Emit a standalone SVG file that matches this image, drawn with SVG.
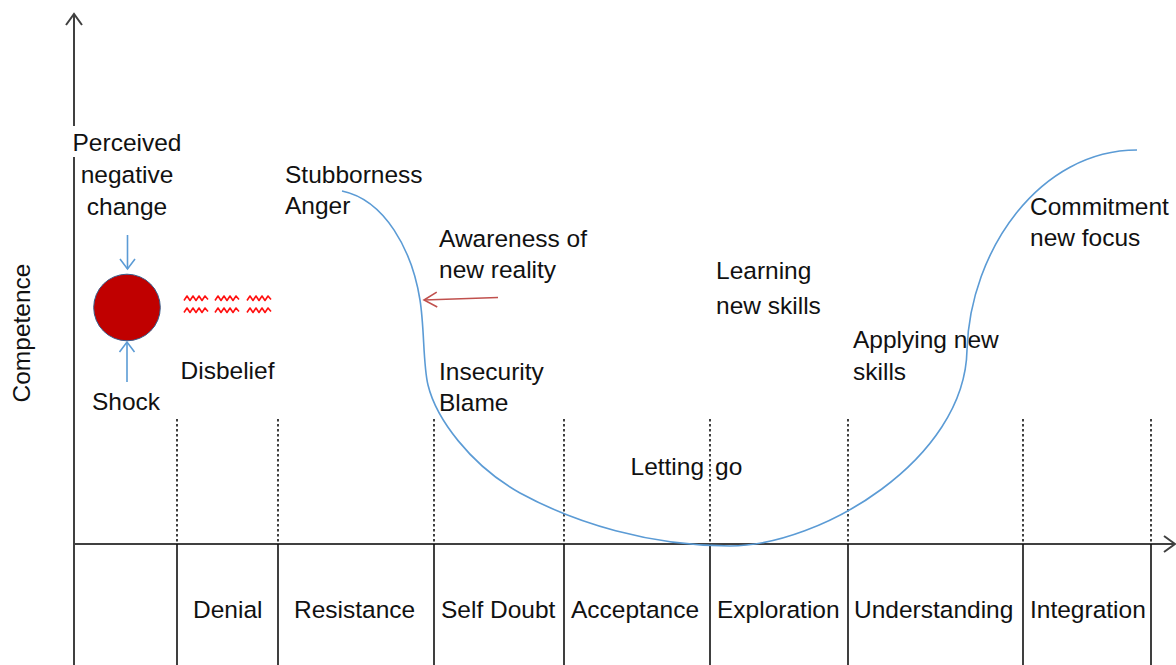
<svg xmlns="http://www.w3.org/2000/svg" width="1176" height="665" viewBox="0 0 1176 665">
<style>
text{font-family:"Liberation Sans",Arial,sans-serif;font-size:24.5px;fill:#111}
.axis{stroke:#404040;stroke-width:2;fill:none}
.sep{stroke:#111;stroke-width:1.6;fill:none}
.dot{stroke:#111;stroke-width:1.6;stroke-dasharray:2.5 2.5;fill:none}
.blue{stroke:#5B9BD5;stroke-width:1.6;fill:none}
.red{stroke:#C0504D;stroke-width:1.6;fill:none}
.sq{stroke:#FF1010;stroke-width:1.6;fill:none;stroke-linejoin:round}
</style>
<defs>
<marker id="axArrow" viewBox="-14 -9 16 18" refX="0" refY="0" markerWidth="16" markerHeight="18" markerUnits="userSpaceOnUse" orient="auto"><path d="M-11,-8 L0,0 L-11,8" fill="none" stroke="#404040" stroke-width="2"/></marker>
<marker id="blueArrow" viewBox="-12 -9 14 18" refX="0" refY="0" markerWidth="14" markerHeight="18" markerUnits="userSpaceOnUse" orient="auto"><path d="M-10,-7.5 L0,0 L-10,7.5" fill="none" stroke="#5B9BD5" stroke-width="1.6"/></marker>
<marker id="redArrow" viewBox="-15 -9 17 18" refX="0" refY="0" markerWidth="17" markerHeight="18" markerUnits="userSpaceOnUse" orient="auto"><path d="M-13,-7.5 L0,0 L-13,7.5" fill="none" stroke="#C0504D" stroke-width="1.6"/></marker>
<path id="sqz" d="M0,3.5 L3,-1 L6,3.5 L9,-1 L12,3.5 L15,-1 L18,3.5 L21,-1 L24,2.5"/>
</defs>

<g id="axes">
<path class="axis" d="M74,665 V157 M74,126 V14" marker-end="url(#axArrow)"/>
<path class="axis" d="M74,544 H1175" marker-end="url(#axArrow)"/>
<text transform="translate(30,333) rotate(-90)" text-anchor="middle">Competence</text>
</g>

<g id="separators">
<path class="dot" d="M177,419 V544 M278,419 V544 M434,419 V544 M564,419 V544 M710,419 V544 M848,419 V544 M1023,419 V544 M1151,419 V544"/>
<path class="sep" d="M177,544 V665 M278,544 V665 M434,544 V665 M564,544 V665 M710,544 V665 M848,544 V665 M1023,544 V665 M1151,544 V665"/>
</g>

<g id="stage-labels">
<text x="193" y="617.5">Denial</text>
<text x="294" y="617.5">Resistance</text>
<text x="441" y="617.5">Self Doubt</text>
<text x="571" y="617.5">Acceptance</text>
<text x="717" y="617.5">Exploration</text>
<text x="854" y="617.5">Understanding</text>
<text x="1030" y="617.5">Integration</text>
</g>

<g id="node-perceived">
<text text-anchor="middle" x="127" y="151">Perceived</text>
<text text-anchor="middle" x="127" y="183">negative</text>
<text text-anchor="middle" x="127" y="215">change</text>
</g>

<g id="node-shock-circle">
<circle cx="127" cy="307.5" r="33.3" fill="#C00000" stroke="#385D8A" stroke-width="1"/>
</g>

<g id="node-shock"><text text-anchor="middle" x="126" y="410">Shock</text></g>

<g id="node-disbelief">
<use href="#sqz" class="sq" x="184" y="297"/>
<use href="#sqz" class="sq" x="215" y="297"/>
<use href="#sqz" class="sq" x="247" y="297"/>
<use href="#sqz" class="sq" x="184" y="309"/>
<use href="#sqz" class="sq" x="215" y="309"/>
<use href="#sqz" class="sq" x="247" y="309"/>
<text x="180.5" y="379">Disbelief</text>
</g>

<g id="node-stubborness">
<text x="285" y="182.5">Stubborness</text>
<text x="285" y="214">Anger</text>
</g>

<g id="node-awareness">
<text x="439" y="246.5">Awareness of</text>
<text x="439" y="278">new reality</text>
</g>

<g id="node-insecurity">
<text x="439" y="380">Insecurity</text>
<text x="439" y="411">Blame</text>
</g>

<g id="node-letting-go"><text x="630.5" y="475">Letting <tspan x="715">go</tspan></text></g>

<g id="node-learning">
<text x="716" y="279">Learning</text>
<text x="716" y="314">new skills</text>
</g>

<g id="node-applying">
<text x="853" y="348">Applying new</text>
<text x="853" y="380">skills</text>
</g>

<g id="node-commitment">
<text x="1030" y="215">Commitment</text>
<text x="1030" y="246">new focus</text>
</g>

<g id="connectors">
<path class="blue" d="M127.5,235 V269" marker-end="url(#blueArrow)"/>
<path class="blue" d="M127,382 V342" marker-end="url(#blueArrow)"/>
<path class="red" d="M498,297.5 L424,300" marker-end="url(#redArrow)"/>
<path class="blue" d="M342,191 C385,200 412,250 420,300 C424.5,328 423,365 428,385 C436,418 470,465 520,493 C575,523 650,546 730,546 C820,546 965,460 967,350 C970,250 1040,150 1137,150"/>
</g>
</svg>
